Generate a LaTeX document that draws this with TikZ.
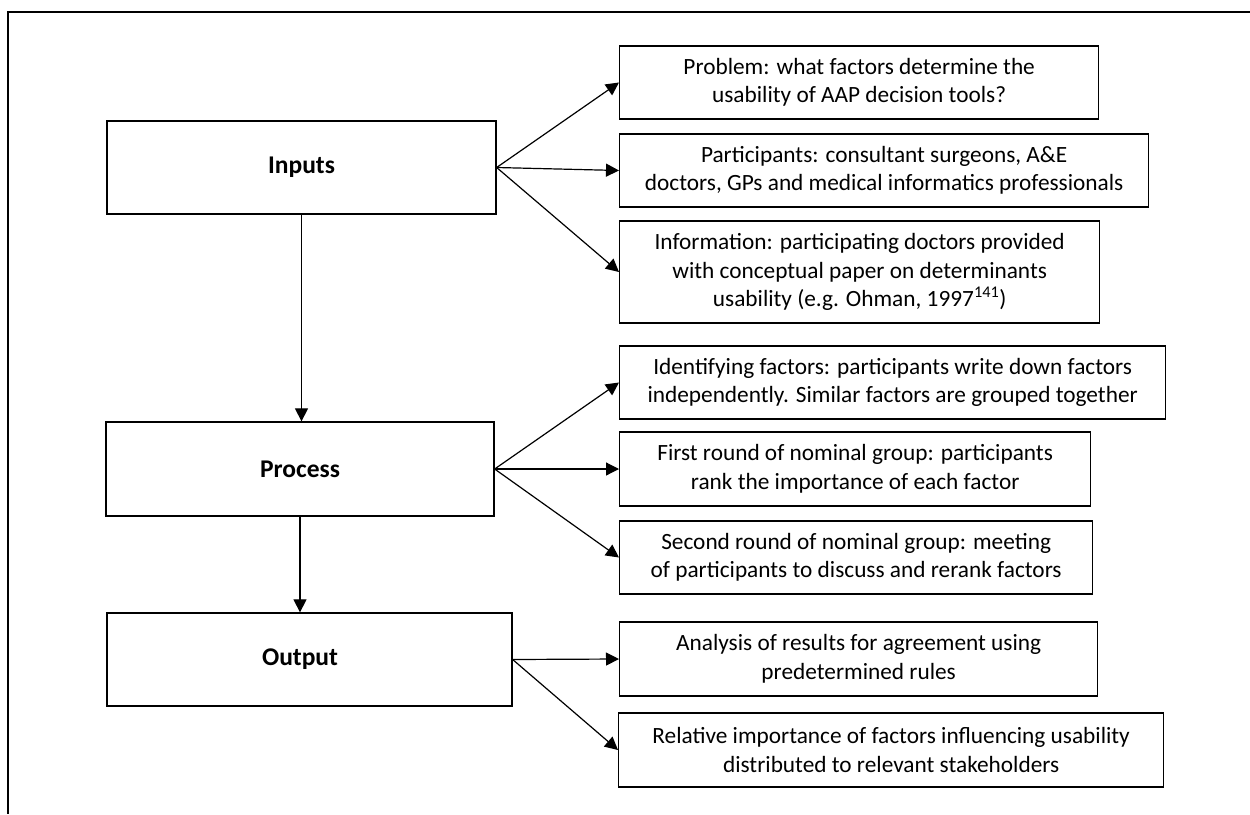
\documentclass[tikz,border=0pt]{standalone}
\usepackage{fontspec}
\setmainfont{Carlito}
\usetikzlibrary{arrows.meta}
\newcommand{\diagfont}{\fontsize{23.3}{28.5}\selectfont}
\newcommand{\stagefont}{\fontsize{25.5}{30}\selectfont\bfseries}
\tikzset{
  stagebox/.style={draw, line width=1.3pt, minimum width=389, minimum height=93, font=\stagefont},
  infobox/.style={draw, line width=1.3pt, anchor=west, minimum height=73, align=center, font=\diagfont},
  flow/.style={-{Triangle[length=13pt,width=13pt]}, line width=1.2pt},
}
\begin{document}
\begin{tikzpicture}[x=1pt, y=-1pt]
	\useasboundingbox (0,0) rectangle (1250,814);
	\draw[line width=1.3pt](1250,12)-- (8,12)-- (8,814); %外枠

	% left column
	\node[stagebox] (inputs) at (301.5,167.5) {Inputs};
	\node[stagebox, minimum width=388, minimum height=94] (process) at (300,469) {Process};
	\node[stagebox, minimum width=405] (output) at (309.5,659.5) {};
	\node[font=\stagefont] (outputlabel) at (output.center -| process.center) {Output};

	% right column
	\node[infobox, minimum width=479] (problem) at (619,82.5) {Problem: what factors determine the\\usability of AAP decision tools?};
	\node[infobox, minimum width=529] (participants) at (619,170.5) {Participants: consultant surgeons, A\&E\\doctors, GPs and medical informatics professionals};
	\node[infobox, minimum width=480, minimum height=102] (information) at (619,272) {Information: participating doctors provided\\with conceptual paper on determinants\\usability (e.g. Ohman, 1997\textsuperscript{141})};
	\node[infobox, minimum width=546] (identifying) at (619,382.5) {Identifying factors: participants write down factors\\independently. Similar factors are grouped together};
	\node[infobox, minimum width=471, minimum height=74] (firstround) at (619,469) {First round of nominal group: participants\\rank the importance of each factor};
	\node[infobox, minimum width=473] (secondround) at (619,557.5) {Second round of nominal group: meeting\\of participants to discuss and rerank factors};
	\node[infobox, minimum width=478, minimum height=74] (analysis) at (619,659) {Analysis of results for agreement using\\predetermined rules};
	\node[infobox, minimum width=545, minimum height=74] (relative) at (618,750) {Relative importance of factors influencing usability\\distributed to relevant stakeholders};

	% arrows
	\foreach \t in {problem, participants, information}
		\draw[flow] (inputs.east)-- (\t.west);
	\foreach \t in {identifying, firstround, secondround}
		\draw[flow] (process.east)-- (\t.west);
	\foreach \t in {analysis, relative}
		\draw[flow] (output.east)-- (\t.west);
	\draw[flow] (inputs.south)-- (inputs.south |- process.north);
	\draw[flow] (process.south)-- (process.south |- output.north);
\end{tikzpicture}
\end{document}
